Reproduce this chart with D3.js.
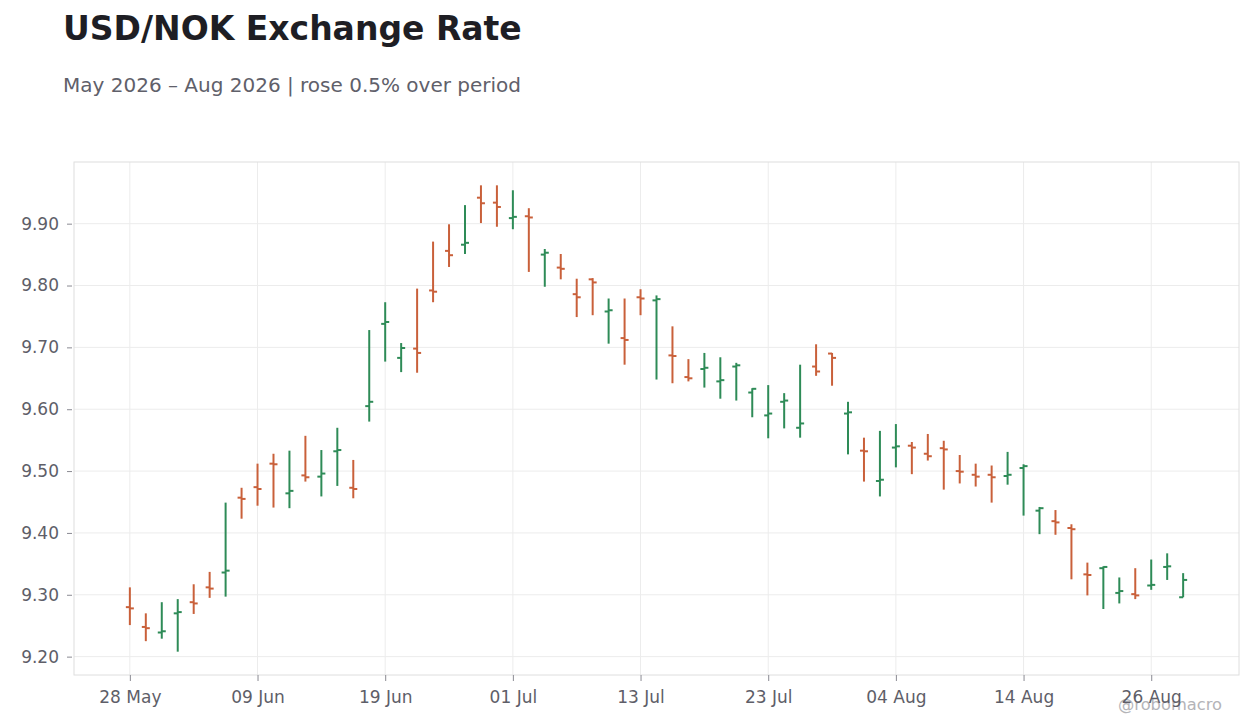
<!DOCTYPE html>
<html>
<head>
<meta charset="utf-8">
<script src="https://cdn.jsdelivr.net/npm/d3@7"></script>
<style>
    body { margin: 0; background: #fff; font-family: 'DejaVu Sans', sans-serif; }
    .frame { fill: none; stroke: #dedede; }
    .grid line { stroke: #ececec; }
    .axis text { fill: #5e5e68; font-size: 17px; font-family: 'DejaVu Sans', sans-serif; }
    .axis line { stroke: #8a8a92; }
    .axis path { display: none; }
</style>
</head>
<body>
<svg id="chart" width="1260" height="728"></svg>
<script>
const dates = [
    '2026-05-28', '2026-05-29',
    '2026-06-01', '2026-06-02', '2026-06-03', '2026-06-04', '2026-06-05',
    '2026-06-08', '2026-06-09', '2026-06-10', '2026-06-11', '2026-06-12',
    '2026-06-15', '2026-06-16', '2026-06-17', '2026-06-18', '2026-06-19',
    '2026-06-22', '2026-06-23', '2026-06-24', '2026-06-25', '2026-06-26',
    '2026-06-29', '2026-06-30', '2026-07-01', '2026-07-02', '2026-07-03',
    '2026-07-06', '2026-07-07', '2026-07-08', '2026-07-09', '2026-07-10',
    '2026-07-13', '2026-07-14', '2026-07-15', '2026-07-16', '2026-07-17',
    '2026-07-20', '2026-07-21', '2026-07-22', '2026-07-23', '2026-07-24',
    '2026-07-27', '2026-07-28', '2026-07-29', '2026-07-30', '2026-07-31',
    '2026-08-03', '2026-08-04', '2026-08-05', '2026-08-06', '2026-08-07',
    '2026-08-10', '2026-08-11', '2026-08-12', '2026-08-13', '2026-08-14',
    '2026-08-17', '2026-08-18', '2026-08-19', '2026-08-20', '2026-08-21',
    '2026-08-24', '2026-08-25', '2026-08-26', '2026-08-27', '2026-08-28'
];

const opens = [
    9.280, 9.248, 9.239, 9.270, 9.288, 9.312, 9.336, 9.457, 9.474, 9.512,
    9.464, 9.493, 9.491, 9.532, 9.473, 9.605, 9.738, 9.683, 9.698, 9.792,
    9.856, 9.866, 9.942, 9.934, 9.909, 9.912, 9.850, 9.829, 9.786, 9.810,
    9.758, 9.715, 9.781, 9.776, 9.687, 9.652, 9.665, 9.645, 9.669, 9.627,
    9.590, 9.612, 9.570, 9.669, 9.690, 9.593, 9.533, 9.484, 9.538, 9.541,
    9.528, 9.537, 9.500, 9.494, 9.494, 9.492, 9.505, 9.436, 9.419, 9.408,
    9.333, 9.343, 9.303, 9.301, 9.315, 9.345, 9.296
];
const highs = [
    9.312, 9.270, 9.288, 9.293, 9.317, 9.337, 9.449, 9.473, 9.512, 9.528,
    9.533, 9.557, 9.534, 9.570, 9.518, 9.728, 9.773, 9.707, 9.795, 9.871,
    9.899, 9.930, 9.962, 9.962, 9.954, 9.925, 9.859, 9.851, 9.811, 9.812,
    9.779, 9.779, 9.794, 9.784, 9.734, 9.681, 9.691, 9.684, 9.675, 9.634,
    9.639, 9.626, 9.672, 9.705, 9.691, 9.612, 9.554, 9.565, 9.576, 9.547,
    9.560, 9.549, 9.526, 9.512, 9.509, 9.531, 9.511, 9.442, 9.437, 9.414,
    9.352, 9.346, 9.328, 9.343, 9.357, 9.367, 9.335
];
const lows = [
    9.251, 9.225, 9.229, 9.208, 9.269, 9.295, 9.297, 9.423, 9.444, 9.441,
    9.440, 9.483, 9.459, 9.476, 9.456, 9.580, 9.677, 9.660, 9.659, 9.773,
    9.830, 9.851, 9.901, 9.895, 9.891, 9.822, 9.798, 9.810, 9.749, 9.752,
    9.706, 9.672, 9.752, 9.648, 9.642, 9.645, 9.635, 9.617, 9.614, 9.587,
    9.553, 9.569, 9.554, 9.654, 9.638, 9.527, 9.483, 9.459, 9.506, 9.495,
    9.517, 9.470, 9.480, 9.475, 9.449, 9.478, 9.428, 9.398, 9.397, 9.325,
    9.299, 9.277, 9.286, 9.293, 9.308, 9.324, 9.296
];
const closes = [
    9.278, 9.246, 9.241, 9.272, 9.286, 9.310, 9.339, 9.455, 9.471, 9.511,
    9.468, 9.490, 9.496, 9.534, 9.471, 9.612, 9.741, 9.699, 9.691, 9.790,
    9.849, 9.869, 9.933, 9.927, 9.911, 9.910, 9.853, 9.827, 9.781, 9.805,
    9.760, 9.712, 9.779, 9.778, 9.686, 9.650, 9.667, 9.647, 9.671, 9.633,
    9.593, 9.614, 9.577, 9.661, 9.683, 9.595, 9.532, 9.486, 9.540, 9.538,
    9.524, 9.535, 9.499, 9.491, 9.490, 9.494, 9.508, 9.440, 9.417, 9.406,
    9.332, 9.345, 9.306, 9.299, 9.316, 9.346, 9.324
];

const xTickDates = ['2026-05-28', '2026-06-09', '2026-06-19', '2026-07-01', '2026-07-13',
                    '2026-07-23', '2026-08-04', '2026-08-14', '2026-08-26'];
const yTicks = [9.2, 9.3, 9.4, 9.5, 9.6, 9.7, 9.8, 9.9];

const upColor = '#2e8b57';
const downColor = '#c9603a';

const width = 1260, height = 728;
const margin = {top: 162, right: 21, bottom: 53, left: 74};
const innerW = width - margin.left - margin.right;
const innerH = height - margin.top - margin.bottom;

const parse = d3.timeParse('%Y-%m-%d');
const fmt = d3.timeFormat('%d %b');

const bars = dates.map((d, i) => ({
    i: i, date: parse(d),
    open: opens[i], high: highs[i], low: lows[i], close: closes[i]
}));

const svg = d3.select('#chart');

svg.append('text')
    .attr('x', 63).attr('y', 40)
    .attr('font-size', 33).attr('font-weight', 'bold')
    .attr('fill', '#1e1e24')
    .text('USD/NOK Exchange Rate');

svg.append('text')
    .attr('x', 63).attr('y', 92)
    .attr('font-size', 20)
    .attr('fill', '#60606a')
    .text('May 2026 – Aug 2026 | rose 0.5% over period');

svg.append('text')
    .attr('x', 1222).attr('y', 710)
    .attr('text-anchor', 'end')
    .attr('font-size', 16.3)
    .attr('fill', '#b4b4b8')
    .text('@robomacro');

let g = svg.append('g')
    .attr('transform', `translate(${margin.left}, ${margin.top})`);

let lo = d3.min(lows), hi = d3.max(highs);
let pad = (hi - lo) * 0.05;

let x = d3.scaleLinear()
    .domain([-3.5, bars.length - 1 + 3.5])
    .range([0, innerW]);

let y = d3.scaleLinear()
    .domain([lo - pad, hi + pad])
    .range([innerH, 0]);

let xTickIdx = xTickDates.map(d => dates.indexOf(d));

g.append('g').classed('grid', true)
    .selectAll('line.v')
    .data(xTickIdx)
    .join('line')
    .attr('x1', d => x(d)).attr('x2', d => x(d))
    .attr('y1', 0).attr('y2', innerH);

g.select('.grid')
    .selectAll('line.h')
    .data(yTicks)
    .join(enter => enter.append('line'))
    .attr('x1', 0).attr('x2', innerW)
    .attr('y1', d => y(d)).attr('y2', d => y(d));

g.append('rect')
    .classed('frame', true)
    .attr('x', 0).attr('y', 0)
    .attr('width', innerW).attr('height', innerH);

g.append('g').classed('axis', true)
    .attr('transform', `translate(0, ${innerH})`)
    .call(d3.axisBottom(x)
        .tickValues(xTickIdx)
        .tickSize(6)
        .tickPadding(10)
        .tickFormat(i => fmt(parse(dates[i]))));

g.append('g').classed('axis', true)
    .attr('transform', 'translate(-2, 0)')
    .call(d3.axisLeft(y)
        .tickValues(yTicks)
        .tickSize(5)
        .tickPadding(8)
        .tickFormat(d3.format('.2f')));

let ohlc = g.append('g')
    .selectAll('g')
    .data(bars)
    .join('g')
    .attr('stroke', d => d.close >= d.open ? upColor : downColor)
    .attr('stroke-width', 2);

ohlc.append('line')
    .attr('x1', d => x(d.i)).attr('x2', d => x(d.i))
    .attr('y1', d => y(d.high)).attr('y2', d => y(d.low));

ohlc.append('line')
    .attr('x1', d => x(d.i) - 4).attr('x2', d => x(d.i))
    .attr('y1', d => y(d.open)).attr('y2', d => y(d.open));

ohlc.append('line')
    .attr('x1', d => x(d.i)).attr('x2', d => x(d.i) + 4)
    .attr('y1', d => y(d.close)).attr('y2', d => y(d.close));
</script>
</body>
</html>
